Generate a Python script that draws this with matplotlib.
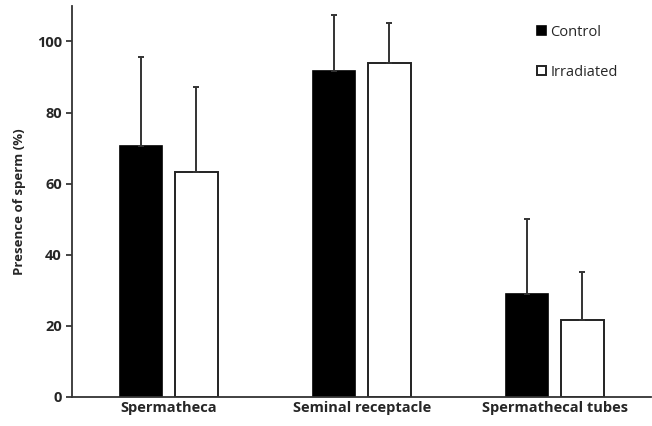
import numpy as np
import matplotlib.pyplot as plt

categories = ["Spermatheca", "Seminal receptacle", "Spermathecal tubes"]
control = [70.7, 91.8, 28.8]
control_err = [24.8, 15.7, 21.3]
irradiated = [63.2, 93.8, 21.5]
irradiated_err = [24.1, 11.5, 13.6]

plt.rcParams['font.family'] = ['Open Sans', 'DejaVu Sans']

fig = plt.figure(figsize=(6.52, 4.26), dpi=100)
ax = fig.add_axes([0.111, 0.069, 0.888, 0.917])

x = np.arange(len(categories))
w = 0.22
off = 0.143
txt = '#262626'

ax.bar(x - off, control, w, color='black', edgecolor='black', linewidth=1.2,
       yerr=[np.zeros(3), control_err], capsize=2,
       error_kw=dict(ecolor='#333333', elinewidth=1.4, capthick=1.4),
       label='Control', zorder=2)
ax.bar(x + off, irradiated, w, color='white', edgecolor='#222222', linewidth=1.4,
       yerr=[np.zeros(3), irradiated_err], capsize=2,
       error_kw=dict(ecolor='#333333', elinewidth=1.4, capthick=1.4),
       label='Irradiated', zorder=2)

ax.set_xlim(-0.5, 2.5)
ax.set_ylim(0, 110)
ax.set_yticks([0, 20, 40, 60, 80, 100])
ax.set_xticks(x)
ax.set_xticklabels(categories, fontsize=10.5, fontweight='bold', color=txt)
ax.tick_params(axis='y', labelsize=10.5, colors=txt, length=4, width=1.2)
for lab in ax.get_yticklabels():
    lab.set_fontweight('bold')
ax.tick_params(axis='x', length=0, pad=3)

ax.spines['top'].set_visible(False)
ax.spines['right'].set_visible(False)
for s in ['left', 'bottom']:
    ax.spines[s].set_color('#333333')
    ax.spines[s].set_linewidth(1.3)

ax.set_ylabel('Presence of sperm (%)', fontsize=9.5, fontweight='bold', color=txt, labelpad=8)

leg = ax.legend(loc='upper left', bbox_to_anchor=(0.78, 0.985), frameon=False,
                fontsize=10.5, handlelength=0.6, handleheight=0.6, handletextpad=0.3,
                labelspacing=1.7, labelcolor=txt)

fig.savefig('out.png', dpi=100)
